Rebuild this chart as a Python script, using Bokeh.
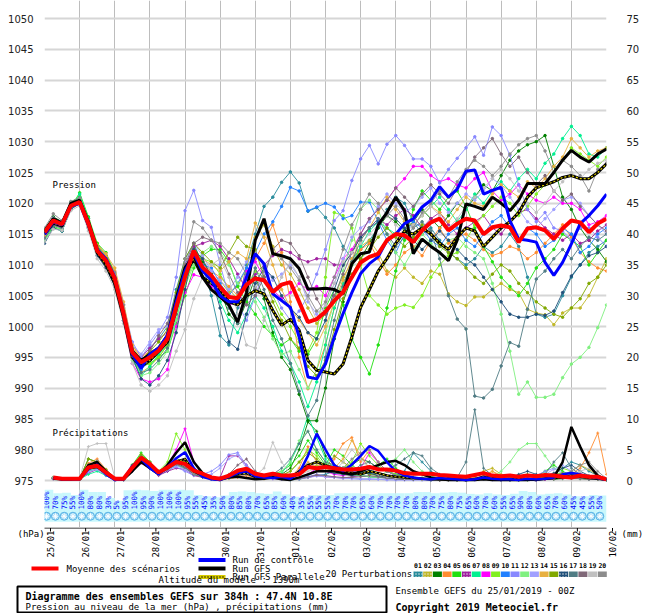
import math
from bokeh.plotting import figure
from bokeh.models import Range1d, LinearAxis, FixedTicker
from bokeh.layouts import column
from bokeh.embed import file_html
from bokeh.resources import INLINE
from bokeh.core.properties import value

# ---------------- DATA ----------------
steps = list(range(65))                       # 6-hourly steps from 25/01 00Z
days = [s / 4 for s in steps]
rr_days = days[1:]                            # precipitation from +6h
date_labels = ["25/01", "26/01", "27/01", "28/01", "29/01", "30/01", "31/01", "01/02", "02/02",
               "03/02", "04/02", "05/02", "06/02", "07/02", "08/02", "09/02", "10/02"]
hpa_ticks = list(range(975, 1051, 5))
mm_ticks = list(range(0, 76, 5))

mean_p = [1015.3, 1017.2, 1016.6, 1019.6, 1020.2, 1016.7, 1012.3, 1010.7,
          1007.8, 1002.1, 995.8, 994.2, 995.0, 996.1, 998.0, 1003.1,
          1008.0, 1012.3, 1009.6, 1008.3, 1006.4, 1004.8, 1004.6, 1006.8,
          1007.8, 1007.5, 1005.6, 1006.8, 1007.2, 1004.0, 1000.7, 1001.2,
          1002.4, 1004.2, 1005.6, 1008.0, 1010.4, 1011.3, 1011.8, 1014.0,
          1015.0, 1014.8, 1013.7, 1015.6, 1016.9, 1017.5, 1015.6, 1016.7,
          1017.5, 1017.2, 1015.0, 1016.1, 1016.4, 1016.1, 1013.7, 1015.9,
          1016.1, 1015.6, 1014.2, 1015.9, 1017.2, 1016.9, 1015.3, 1016.7,
          1017.5]
control_p = [1015.0, 1017.0, 1016.5, 1019.5, 1020.0, 1016.5, 1012.5, 1011.0,
             1008.0, 1002.0, 995.5, 993.2, 995.5, 996.5, 998.5, 1004.0,
             1009.0, 1011.8, 1009.0, 1007.5, 1005.0, 1004.0, 1004.0, 1008.0,
             1011.8, 1010.2, 1005.3, 1004.2, 1003.1, 998.3, 991.8, 991.5,
             993.9, 998.3, 1002.1, 1005.5, 1008.6, 1010.2, 1011.3, 1014.0,
             1015.0, 1016.7, 1017.5, 1019.4, 1020.5, 1022.7, 1021.0, 1022.3,
             1025.2, 1025.4, 1021.5, 1022.1, 1022.6, 1017.2, 1014.2, 1014.0,
             1013.7, 1010.4, 1008.3, 1010.4, 1013.4, 1016.7, 1018.0, 1019.6,
             1021.5]
gfs_p = [1015.5, 1017.5, 1016.8, 1020.0, 1020.5, 1017.0, 1012.5, 1010.5,
         1007.5, 1002.0, 996.0, 994.5, 995.5, 996.5, 998.5, 1004.5,
         1009.5, 1011.5, 1008.0, 1006.0, 1004.8, 1003.5, 1000.7, 1005.5,
         1014.0, 1017.5, 1011.8, 1011.5, 1011.0, 1009.4, 1006.1, 1006.1,
         1006.2, 1006.0, 1005.3, 1010.2, 1011.8, 1012.1, 1016.5, 1018.5,
         1021.0, 1018.8, 1011.8, 1014.2, 1013.0, 1012.0, 1010.7, 1014.0,
         1019.9, 1019.5, 1019.0, 1021.0, 1020.0, 1018.8, 1020.5, 1023.2,
         1023.2, 1023.2, 1025.0, 1027.0, 1028.6, 1027.5, 1026.7, 1028.0,
         1028.8]
par_p = [1015.0, 1016.8, 1016.3, 1019.8, 1020.3, 1016.5, 1012.0, 1010.0,
         1007.0, 1001.5, 995.0, 993.5, 994.5, 996.0, 997.5, 1003.0,
         1008.5, 1011.0, 1008.0, 1007.0, 1006.0, 1004.0, 1003.5, 1005.0,
         1005.8, 1005.3, 1002.6, 1000.2, 1001.2, 999.4, 994.5, 992.9,
         992.6, 992.3, 993.9, 998.3, 1003.1, 1006.0, 1009.0, 1011.0,
         1013.5, 1015.5, 1015.0, 1016.0, 1015.0, 1013.5, 1012.5, 1014.5,
         1016.0, 1015.5, 1013.0, 1014.5, 1016.0, 1017.0, 1018.5, 1021.0,
         1022.5, 1023.0, 1023.5, 1024.2, 1024.5, 1024.0, 1024.0, 1025.0,
         1026.4]

pert01 = [1014.8, 1016.9, 1016.2, 1019.5, 1020.4, 1016.0, 1012.8, 1011.2,
          1008.5, 1003.0, 996.5, 993.0, 996.5, 998.0, 1000.0, 1006.0,
          1011.0, 1013.5, 1010.0, 1005.0, 998.5, 997.0, 1003.0, 1010.0,
          1015.0, 1019.5, 1021.0, 1023.4, 1025.1, 1023.3, 1018.7, 1019.3,
          1017.7, 1016.0, 1013.0, 1011.0, 1012.5, 1014.0, 1016.0, 1019.0,
          1021.0, 1020.0, 1017.0, 1015.0, 1016.0, 1014.0, 1012.0, 1011.0,
          1010.0, 1011.0, 1013.0, 1012.0, 1013.0, 1015.0, 1013.0, 1008.0,
          1002.0, 1001.5, 1002.0, 1005.0, 1008.0, 1010.0, 1012.0, 1013.0,
          1014.0]
pert02 = [1014.5, 1016.5, 1016.0, 1019.2, 1019.8, 1016.2, 1012.0, 1010.5,
          1007.0, 1001.5, 995.0, 992.5, 993.5, 995.0, 997.0, 1002.5,
          1008.0, 1011.5, 1010.5, 1009.0, 1007.5, 1005.5, 1006.5, 1009.5,
          1014.5, 1016.5, 1013.0, 1010.0, 1008.5, 1006.0, 1003.0, 1000.5,
          1002.0, 1005.0, 1008.0, 1010.5, 1013.0, 1014.0, 1012.0, 1009.0,
          1008.0, 1009.5, 1008.0, 1007.0, 1009.0, 1008.5, 1005.3, 1004.0,
          1003.4, 1004.8, 1004.8, 1006.0, 1007.0, 1006.0, 1005.5, 1002.8,
          1002.2, 1001.9, 1000.3, 1002.2, 1003.0, 1003.0, 1005.0, 1008.0,
          1011.0]
pert03 = [1015.8, 1017.8, 1017.0, 1020.2, 1021.0, 1017.5, 1013.0, 1011.5,
          1008.0, 1002.5, 996.0, 994.0, 994.5, 995.5, 997.5, 1003.0,
          1009.5, 1013.0, 1010.5, 1008.5, 1006.0, 1002.0, 1000.5, 1004.0,
          1008.0, 1004.5, 999.0, 995.0, 993.0, 989.0, 984.7, 984.7,
          990.0, 998.0, 1004.0, 1008.0, 1011.0, 1013.5, 1016.0, 1018.0,
          1017.0, 1015.5, 1017.0, 1019.0, 1017.5, 1016.0, 1018.0, 1020.0,
          1019.0, 1021.0, 1023.0, 1022.0, 1024.5, 1027.0, 1028.5, 1029.5,
          1030.0, 1031.0, 1026.0, 1021.0, 1019.0, 1016.0, 1014.0, 1012.5,
          1010.5]
pert04 = [1015.0, 1017.0, 1016.5, 1019.8, 1020.6, 1017.0, 1013.5, 1011.5,
          1009.0, 1003.5, 997.0, 995.0, 996.0, 996.5, 998.5, 1004.0,
          1008.5, 1012.0, 1010.0, 1009.0, 1008.0, 1006.5, 1005.0, 1008.0,
          1011.0, 1013.5, 1016.5, 1012.0, 1004.0, 995.0, 989.9, 993.0,
          997.0, 1003.0, 1007.0, 1010.0, 1012.5, 1013.5, 1011.0, 1008.5,
          1010.0, 1012.0, 1013.0, 1011.5, 1014.0, 1016.0, 1013.5, 1014.5,
          1015.0, 1014.0, 1012.5, 1011.5, 1012.0, 1013.0, 1012.5, 1011.0,
          1012.0, 1013.5, 1015.0, 1016.5, 1014.5, 1012.0, 1010.5, 1009.5,
          1009.0]
pert05 = [1014.2, 1016.2, 1015.8, 1019.4, 1021.7, 1017.8, 1013.5, 1012.0,
          1008.5, 1002.5, 995.5, 993.5, 994.0, 995.0, 996.0, 1000.5,
          1005.0, 1009.5, 1011.5, 1012.5, 1012.5, 1010.5, 1006.5, 1004.0,
          1002.0, 1000.0, 998.5, 997.0, 998.0, 996.0, 995.5, 998.0,
          1003.0, 1006.0, 1003.5, 998.0, 995.0, 992.3, 997.0, 1003.0,
          1009.0, 1014.0, 1019.0, 1022.0, 1020.5, 1019.0, 1021.0, 1022.0,
          1019.5, 1016.0, 1013.0, 1010.5, 1008.0, 1006.5, 1005.0, 1007.0,
          1009.5, 1011.0, 1012.5, 1015.0, 1014.0, 1013.0, 1010.0, 1012.0,
          1014.0]
pert06 = [1015.5, 1017.5, 1016.8, 1019.8, 1020.3, 1016.8, 1012.5, 1010.5,
          1008.0, 1002.5, 996.0, 995.0, 996.5, 998.0, 999.0, 1004.0,
          1009.5, 1013.0, 1013.5, 1014.0, 1013.0, 1011.0, 1008.5, 1006.0,
          1008.5, 1010.0, 1011.5, 1012.5, 1012.0, 1011.0, 1010.5, 1011.0,
          1011.0, 1010.0, 1010.0, 1012.0, 1014.5, 1016.0, 1017.5, 1016.5,
          1018.0, 1019.0, 1018.0, 1016.0, 1017.5, 1018.5, 1016.5, 1015.0,
          1016.0, 1017.0, 1018.0, 1016.0, 1015.0, 1017.0, 1018.5, 1019.0,
          1017.5, 1016.0, 1015.0, 1014.0, 1015.0, 1013.5, 1014.0, 1015.5,
          1016.5]
pert07 = [1014.0, 1016.0, 1015.5, 1019.0, 1021.5, 1017.5, 1013.0, 1011.0,
          1008.0, 1002.0, 995.0, 992.0, 993.5, 995.5, 997.0, 1001.0,
          1007.0, 1011.0, 1009.0, 1007.5, 1004.0, 1001.0, 999.0, 1002.0,
          1005.0, 1003.0, 1000.0, 996.0, 994.0, 991.0, 987.0, 991.0,
          997.0, 1003.0, 1007.0, 1010.0, 1013.0, 1015.5, 1017.0, 1016.0,
          1015.0, 1017.0, 1016.5, 1018.0, 1019.5, 1021.0, 1019.0, 1017.0,
          1019.0, 1021.5, 1020.0, 1022.0, 1023.5, 1022.0, 1024.0, 1025.5,
          1024.0, 1026.5, 1028.0, 1030.5, 1032.5, 1031.0, 1028.0, 1027.5,
          1029.0]
pert08 = [1014.5, 1016.5, 1016.0, 1019.5, 1020.8, 1016.5, 1012.0, 1010.0,
          1007.0, 1001.0, 994.0, 991.5, 991.0, 991.5, 993.0, 1000.0,
          1005.5, 1008.4, 1008.0, 1006.5, 1005.0, 1003.5, 1004.0, 1009.0,
          1010.5, 1008.0, 1006.0, 1004.5, 1005.5, 1007.0, 1006.0, 1006.5,
          1005.0, 1008.0, 1011.0, 1012.5, 1015.0, 1017.5, 1019.0, 1020.5,
          1022.5, 1024.0, 1026.0, 1026.0, 1024.5, 1023.5, 1024.0, 1023.0,
          1022.5, 1024.0, 1025.0, 1022.0, 1020.5, 1021.5, 1023.0, 1021.5,
          1020.5, 1020.0, 1021.0, 1020.0, 1020.0, 1019.0, 1016.5, 1017.0,
          1018.0]
pert09 = [1015.2, 1017.3, 1016.5, 1019.6, 1020.0, 1016.5, 1012.0, 1010.0,
          1007.5, 1002.0, 995.5, 993.5, 994.0, 995.0, 997.0, 1002.0,
          1007.0, 1010.5, 1011.0, 1010.5, 1008.5, 1006.0, 1004.5, 1006.5,
          1009.0, 1008.0, 1005.0, 1002.0, 1000.0, 997.5, 996.0, 999.0,
          1008.0, 1018.5, 1018.0, 1016.0, 1010.0, 1005.0, 1003.5, 1002.0,
          1003.0, 1003.5, 1003.1, 1005.0, 1008.0, 1010.0, 1011.5, 1012.0,
          1014.0, 1016.5, 1018.0, 1019.5, 1021.0, 1020.0, 1018.0, 1019.5,
          1021.5, 1023.0, 1025.0, 1027.0, 1029.0, 1028.0, 1027.0, 1026.0,
          1027.5]
pert10 = [1014.8, 1016.8, 1016.2, 1019.4, 1020.5, 1016.8, 1012.5, 1010.5,
          1007.5, 1001.5, 995.0, 993.0, 994.5, 996.0, 998.5, 1004.5,
          1009.0, 1011.5, 1010.0, 1009.5, 1007.0, 1005.0, 1007.0, 1009.5,
          1012.0, 1015.0, 1017.0, 1019.5, 1022.6, 1022.0, 1018.8, 1019.4,
          1020.0, 1019.4, 1017.5, 1018.0, 1020.2, 1020.2, 1017.0, 1014.0,
          1012.0, 1015.0, 1017.0, 1016.0, 1014.0, 1013.0, 1015.0, 1016.0,
          1014.0, 1013.0, 1015.0, 1017.0, 1018.0, 1016.0, 1014.0, 1016.0,
          1015.0, 1013.0, 1014.0, 1016.0, 1015.0, 1012.0, 1013.0, 1015.0,
          1016.0]
pert11 = [1015.0, 1017.0, 1016.5, 1019.5, 1020.0, 1016.5, 1012.5, 1011.0,
          1008.5, 1003.5, 997.5, 995.0, 997.0, 999.0, 1001.5, 1008.0,
          1018.8, 1022.1, 1017.2, 1016.1, 1010.0, 1005.0, 1003.7, 1001.0,
          1005.0, 1009.0, 1006.0, 1003.0, 1001.0, 1002.5, 1005.0, 1008.5,
          1012.5, 1017.2, 1018.8, 1023.7, 1027.2, 1029.4, 1026.4, 1029.6,
          1031.0, 1029.4, 1027.2, 1027.2, 1026.0, 1023.3, 1025.5, 1027.3,
          1029.0, 1030.8, 1027.8, 1032.4, 1031.0, 1027.8, 1023.0, 1019.0,
          1017.0, 1018.5, 1016.0, 1015.5, 1014.0, 1016.0, 1016.0, 1014.5,
          1013.0]
pert12 = [1014.0, 1016.0, 1015.8, 1019.0, 1020.5, 1017.0, 1013.0, 1010.5,
          1007.0, 1001.0, 994.5, 992.0, 992.5, 994.0, 996.0, 1001.0,
          1006.5, 1010.0, 1012.0, 1013.0, 1012.0, 1010.0, 1007.0, 1005.5,
          1004.0, 1001.5, 998.0, 995.5, 996.0, 993.0, 990.0, 993.0,
          999.0, 1004.0, 1009.0, 1014.0, 1019.0, 1020.5, 1019.0, 1015.0,
          1012.0, 1010.0, 1012.5, 1015.0, 1013.5, 1012.0, 1014.0, 1014.5,
          1013.0, 1012.0, 1011.0, 1007.0, 1002.0, 996.0, 989.0, 991.0,
          988.5, 988.5, 989.0, 991.7, 993.9, 995.0, 996.6, 999.8,
          1003.5]
pert13 = [1015.6, 1017.6, 1017.0, 1020.0, 1020.4, 1016.8, 1012.3, 1010.8,
          1008.3, 1003.0, 997.0, 995.5, 997.5, 999.5, 1000.0, 1005.0,
          1010.5, 1013.5, 1011.5, 1009.0, 1007.5, 1006.0, 1008.0, 1010.5,
          1012.0, 1010.0, 1007.5, 1008.5, 1010.0, 1008.0, 1004.0, 1002.0,
          1003.5, 1007.0, 1011.0, 1014.5, 1016.0, 1017.0, 1019.5, 1021.5,
          1020.0, 1018.5, 1019.5, 1021.0, 1022.5, 1020.0, 1018.5, 1020.0,
          1021.5, 1020.5, 1022.0, 1024.0, 1023.0, 1021.0, 1019.0, 1017.0,
          1016.0, 1017.5, 1019.0, 1020.5, 1021.0, 1020.0, 1018.0, 1016.5,
          1015.0]
pert14 = [1014.7, 1016.6, 1016.3, 1019.7, 1020.7, 1017.2, 1013.2, 1011.8,
          1009.5, 1004.0, 997.0, 994.5, 995.5, 996.5, 998.0, 1003.5,
          1009.0, 1012.5, 1011.0, 1010.0, 1009.0, 1010.5, 1012.0, 1011.0,
          1016.8, 1014.5, 1010.0, 1006.0, 1003.0, 1001.0, 999.0, 997.0,
          1000.0, 1004.0, 1007.5, 1011.0, 1014.0, 1016.0, 1018.5, 1021.0,
          1019.0, 1017.0, 1016.5, 1018.0, 1019.5, 1018.5, 1017.0, 1019.0,
          1021.0, 1020.0, 1019.5, 1021.5, 1023.0, 1022.0, 1021.0, 1023.5,
          1022.5, 1024.0, 1026.0, 1027.5, 1030.5, 1029.0, 1027.5, 1028.5,
          1029.0]
pert15 = [1015.4, 1017.4, 1016.9, 1019.9, 1020.5, 1017.0, 1013.0, 1011.0,
          1008.0, 1002.5, 996.5, 994.5, 996.0, 997.5, 999.5, 1005.5,
          1011.0, 1013.5, 1012.0, 1010.5, 1009.5, 1012.0, 1014.5, 1013.0,
          1012.5, 1008.0, 1004.0, 1001.0, 998.0, 996.5, 993.5, 992.0,
          994.5, 999.5, 1004.5, 1008.5, 1011.0, 1012.5, 1014.5, 1016.0,
          1014.5, 1013.0, 1014.5, 1016.5, 1015.0, 1013.0, 1012.0, 1011.0,
          1009.5, 1008.0, 1007.0, 1008.5, 1010.0, 1009.0, 1007.0, 1005.5,
          1004.0, 1003.0, 1002.0, 1001.5, 1003.0, 1004.5, 1007.0, 1008.0,
          1010.0]
pert16 = [1013.5, 1016.0, 1015.5, 1019.0, 1020.0, 1016.0, 1011.5, 1009.5,
          1006.5, 1001.0, 995.0, 991.5, 990.5, 992.0, 994.5, 999.0,
          1006.0, 1012.5, 1011.0, 1008.0, 1003.0, 997.5, 996.3, 1002.0,
          1007.0, 1009.5, 1008.0, 1005.0, 1003.0, 1001.5, 999.0, 998.0,
          1001.0, 1006.0, 1010.0, 1012.0, 1014.5, 1016.0, 1017.0, 1018.5,
          1017.5, 1016.0, 1014.0, 1012.5, 1014.0, 1015.5, 1014.0, 1012.5,
          1011.0, 1010.0, 1008.0, 1006.0, 1004.0, 1002.0, 1001.5, 1001.5,
          1002.0, 1001.8, 1002.5, 1005.5, 1008.2, 1010.0, 1011.5, 1012.0,
          1013.0]
pert17 = [1014.3, 1016.4, 1016.0, 1019.3, 1020.1, 1016.3, 1012.2, 1010.2,
          1007.5, 1002.0, 995.5, 992.5, 993.0, 994.5, 996.5, 1002.0,
          1007.5, 1011.0, 1009.5, 1008.0, 1005.5, 1003.0, 1000.5, 1004.5,
          1009.5, 1006.0, 1001.0, 998.0, 994.0, 989.5, 985.5, 988.0,
          995.0, 1001.0, 1006.5, 1010.5, 1014.0, 1016.0, 1017.5, 1015.0,
          1013.0, 1014.5, 1016.0, 1017.0, 1015.5, 1011.0, 1005.0, 1001.2,
          999.6, 988.7, 988.4, 989.8, 993.6, 997.4, 996.8, 1002.8,
          1007.7, 1009.0, 1011.0, 1012.5, 1011.0, 1013.0, 1014.5, 1014.0,
          1015.0]
pert18 = [1015.1, 1017.1, 1016.4, 1019.5, 1020.2, 1016.4, 1012.0, 1009.8,
          1007.0, 1001.5, 995.5, 993.5, 996.0, 998.5, 1000.5, 1005.0,
          1010.0, 1013.5, 1014.5, 1014.0, 1012.0, 1008.5, 1005.5, 1003.5,
          1005.0, 1008.0, 1012.5, 1014.0, 1013.5, 1011.5, 1008.0, 1004.5,
          1002.0, 1005.0, 1008.5, 1012.0, 1015.0, 1017.5, 1019.0, 1020.5,
          1022.5, 1021.0, 1019.5, 1021.5, 1023.0, 1021.5, 1020.0, 1022.5,
          1025.0, 1027.5, 1029.0, 1030.5, 1028.0, 1026.0, 1027.5, 1025.0,
          1023.0, 1024.5, 1022.0, 1020.5, 1021.5, 1019.5, 1018.0, 1016.5,
          1015.5]
pert19 = [1013.8, 1015.8, 1015.6, 1018.8, 1019.6, 1015.5, 1011.0, 1009.0,
          1006.0, 1000.5, 994.0, 990.5, 989.5, 990.5, 992.0, 996.0,
          999.5, 1004.5, 1008.0, 1010.0, 1011.0, 1008.0, 1002.0, 997.0,
          996.5, 1001.0, 1005.0, 1008.0, 1010.5, 1008.0, 1004.5, 1001.0,
          1003.5, 1007.0, 1010.5, 1012.0, 1013.5, 1015.0, 1016.5, 1018.0,
          1016.5, 1015.0, 1016.5, 1018.0, 1019.5, 1018.0, 1016.0, 1017.5,
          1019.5, 1021.0, 1022.5, 1024.0, 1025.5, 1024.0, 1022.0, 1020.0,
          1018.5, 1020.0, 1022.0, 1023.5, 1025.0, 1024.0, 1025.5, 1026.5,
          1027.0]
pert20 = [1016.0, 1018.3, 1017.2, 1020.3, 1020.9, 1017.2, 1012.8, 1010.8,
          1008.8, 1003.5, 996.5, 994.0, 995.0, 996.5, 998.5, 1004.0,
          1011.0, 1017.0, 1016.0, 1014.0, 1013.5, 1012.0, 1011.0, 1008.5,
          1006.0, 1009.0, 1012.0, 1011.0, 1009.5, 1007.5, 1005.0, 1002.5,
          1004.0, 1008.0, 1012.5, 1016.5, 1019.0, 1021.5, 1020.0, 1018.0,
          1019.5, 1017.5, 1016.0, 1018.5, 1020.0, 1022.0, 1021.0, 1023.5,
          1025.5, 1027.0, 1026.0, 1024.5, 1026.0, 1028.0, 1029.5, 1030.5,
          1031.0, 1028.5, 1025.0, 1027.0, 1026.0, 1024.5, 1022.0, 1025.5,
          1026.5]

# precipitation (mm per 6 h), from +6h to +384h
mean_rr = [0.5, 0.3, 0.3, 0.3, 2.1, 2.4, 1.3, 0.3,
           0.3, 2.1, 3.7, 2.7, 1.3, 2.1, 3.0, 2.7,
           1.6, 1.1, 0.5, 0.3, 0.8, 1.6, 1.9, 1.1,
           0.8, 1.1, 0.8, 0.8, 1.0, 2.2, 2.0, 2.2,
           2.0, 1.8, 1.8, 1.9, 2.2, 1.8, 1.8, 1.6,
           1.2, 1.1, 1.1, 1.1, 0.9, 0.8, 0.7, 0.6,
           0.9, 1.2, 0.8, 0.7, 0.8, 0.6, 0.8, 0.7,
           0.9, 0.8, 0.6, 0.5, 0.8, 0.6, 0.6, 0.2]
control_rr = [0.4, 0.2, 0.2, 0.2, 1.8, 2.6, 1.0, 0.1,
              0.2, 2.4, 3.5, 2.0, 1.0, 2.2, 3.6, 4.6,
              2.0, 0.6, 0.2, 0.1, 0.6, 1.2, 1.5, 0.7,
              0.5, 0.4, 0.6, 0.3, 1.2, 4.0, 7.6, 5.0,
              2.5, 1.5, 2.6, 4.0, 5.6, 4.8, 3.0, 1.5,
              0.8, 0.5, 0.3, 0.2, 0.4, 0.3, 0.2, 0.1,
              0.2, 0.5, 0.3, 0.2, 0.2, 0.1, 0.3, 0.2,
              0.3, 0.5, 1.0, 1.2, 1.0, 0.6, 0.4, 0.1]
gfs_rr = [0.4, 0.2, 0.2, 0.3, 2.5, 3.0, 1.5, 0.2,
          0.2, 1.5, 3.0, 2.0, 1.0, 2.5, 4.5, 6.2,
          3.0, 1.2, 0.3, 0.1, 0.5, 0.6, 0.4, 0.2,
          0.3, 0.5, 0.2, 0.1, 0.5, 1.0, 1.5, 1.5,
          1.5, 1.2, 1.0, 1.5, 2.0, 2.5, 3.0, 3.2,
          2.5, 1.5, 1.0, 0.5, 0.2, 0.1, 0.1, 0.1,
          0.1, 0.2, 0.1, 0.1, 0.1, 0.1, 0.1, 0.2,
          0.3, 0.5, 3.0, 8.7, 5.5, 2.5, 0.8, 0.1]
par_rr = [0.3, 0.2, 0.2, 0.2, 2.0, 2.2, 1.2, 0.2,
          0.2, 2.0, 3.2, 2.5, 1.2, 2.0, 3.0, 3.5,
          1.5, 0.8, 0.3, 0.2, 0.8, 1.0, 1.2, 0.6,
          0.4, 0.6, 0.5, 0.4, 1.5, 2.5, 3.0, 2.5,
          2.0, 1.5, 1.2, 1.0, 1.5, 1.2, 0.8, 0.6,
          0.5, 0.4, 0.3, 0.2, 0.2, 0.3, 0.2, 0.1,
          0.2, 0.6, 0.4, 0.2, 0.2, 0.3, 0.2, 0.1,
          0.3, 0.4, 0.5, 0.8, 0.6, 0.4, 0.3, 0.1]

rr01 = [0.4, 0.2, 0.2, 0.3, 1.5, 2.0, 1.0, 0.2, 0.2, 2.0, 3.5, 2.5, 1.0, 1.5, 2.5, 2.0,
        1.0, 0.5, 0.2, 0.1, 0.5, 1.0, 1.0, 0.5, 0.3, 0.5, 0.2, 0.1, 0.2, 0.5, 0.8, 1.0,
        1.5, 2.0, 2.0, 1.5, 1.2, 0.8, 0.5, 0.3, 1.5, 4.5, 3.0, 1.5, 0.5, 0.3, 0.2, 0.1,
        0.2, 0.5, 0.3, 0.2, 0.1, 0.1, 0.2, 0.1, 0.2, 1.0, 2.0, 3.0, 2.5, 1.5, 0.8, 0.2]
rr02 = [0.3, 0.2, 0.2, 0.2, 1.8, 2.2, 1.0, 0.1, 0.1, 1.8, 3.0, 2.2, 1.0, 1.8, 2.5, 2.0,
        1.2, 0.8, 0.3, 0.2, 0.5, 0.8, 1.0, 0.6, 0.5, 0.8, 0.5, 0.4, 1.0, 2.0, 2.5, 2.0,
        1.5, 1.0, 0.8, 1.2, 1.5, 1.0, 0.6, 0.5, 0.4, 0.3, 0.3, 0.2, 0.1, 0.2, 0.1, 0.1,
        0.5, 1.5, 2.0, 1.0, 0.5, 0.3, 0.2, 0.2, 0.4, 0.6, 0.8, 1.5, 2.5, 1.8, 0.8, 0.2]
rr03 = [0.5, 0.3, 0.3, 0.3, 3.5, 3.0, 1.5, 0.2, 0.2, 2.5, 4.0, 3.0, 1.5, 2.5, 3.5, 3.0,
        1.5, 1.0, 0.5, 0.3, 0.6, 1.0, 1.2, 0.8, 0.5, 0.8, 1.0, 2.0, 5.0, 9.5, 8.0, 4.0,
        2.5, 2.0, 2.5, 3.5, 3.0, 2.0, 1.5, 1.0, 0.8, 0.5, 0.4, 0.3, 0.2, 0.2, 0.1, 0.1,
        0.2, 0.3, 0.2, 0.1, 0.1, 0.1, 0.1, 0.1, 0.2, 0.2, 0.3, 0.4, 0.3, 0.2, 0.2, 0.1]
rr04 = [0.3, 0.2, 0.2, 0.3, 2.8, 3.5, 1.8, 0.2, 0.2, 2.2, 3.8, 2.8, 1.2, 2.0, 2.8, 2.2,
        1.0, 0.6, 0.2, 0.1, 0.3, 0.5, 0.8, 0.4, 0.3, 0.5, 0.3, 0.5, 2.0, 5.5, 3.0, 1.5,
        3.5, 6.0, 7.0, 3.0, 5.0, 3.0, 1.5, 0.8, 0.5, 0.4, 0.3, 0.2, 0.2, 0.2, 0.1, 0.1,
        0.3, 0.5, 1.5, 0.6, 0.3, 0.2, 0.2, 0.2, 0.3, 0.4, 0.6, 1.0, 2.0, 4.5, 7.7, 1.0]
rr05 = [0.4, 0.2, 0.2, 0.2, 1.5, 2.0, 1.0, 0.1, 0.1, 2.5, 4.5, 3.0, 1.2, 2.2, 3.2, 2.5,
        1.2, 0.8, 0.4, 0.2, 0.5, 1.0, 1.5, 1.0, 0.8, 1.0, 1.5, 2.5, 4.0, 6.5, 4.5, 2.5,
        5.0, 4.0, 2.5, 1.5, 1.0, 2.5, 3.5, 2.0, 1.0, 0.5, 0.3, 0.2, 0.2, 0.1, 0.1, 0.1,
        0.2, 0.4, 0.2, 0.2, 0.2, 0.5, 1.0, 0.6, 1.5, 2.5, 1.5, 0.8, 0.6, 0.4, 0.3, 0.1]
rr06 = [0.3, 0.2, 0.2, 0.2, 1.2, 1.8, 0.8, 0.1, 0.1, 1.5, 2.8, 2.0, 0.8, 1.5, 2.0, 1.8,
        0.8, 0.5, 0.3, 0.5, 4.0, 4.0, 2.5, 1.0, 0.5, 0.3, 0.2, 0.2, 0.3, 0.5, 0.8, 0.6,
        0.5, 0.4, 0.6, 0.8, 0.6, 0.5, 0.4, 0.3, 0.3, 0.2, 0.2, 0.1, 0.1, 0.1, 0.1, 0.1,
        0.2, 0.3, 0.2, 0.1, 0.1, 0.2, 0.2, 0.1, 0.2, 0.3, 0.4, 0.5, 0.4, 0.3, 0.2, 0.1]
rr07 = [0.4, 0.2, 0.2, 0.2, 1.0, 1.5, 0.8, 0.1, 0.1, 1.8, 3.0, 2.2, 1.0, 1.8, 2.5, 2.0,
        1.0, 0.6, 0.3, 0.2, 0.4, 0.8, 1.0, 0.6, 0.5, 0.8, 1.2, 3.0, 6.0, 10.5, 7.0, 3.5,
        2.0, 1.5, 1.0, 0.8, 0.6, 0.5, 0.4, 0.3, 0.3, 0.2, 0.2, 0.1, 0.1, 0.1, 0.1, 0.1,
        0.2, 0.2, 0.2, 0.1, 0.1, 0.1, 0.2, 0.2, 0.3, 0.4, 0.5, 1.0, 0.8, 0.5, 0.3, 0.1]
rr08 = [0.3, 0.2, 0.2, 0.2, 1.5, 2.2, 1.2, 0.1, 0.1, 1.8, 3.2, 2.5, 1.2, 2.5, 5.0, 8.4,
        3.0, 1.0, 0.4, 0.2, 0.5, 0.8, 1.0, 0.5, 0.4, 0.5, 0.3, 0.2, 0.5, 1.0, 2.0, 1.5,
        1.0, 0.8, 1.2, 2.0, 4.5, 3.0, 1.5, 0.8, 0.5, 0.3, 0.2, 0.2, 0.1, 0.1, 0.1, 0.1,
        0.2, 0.3, 0.2, 0.1, 0.1, 0.1, 0.2, 0.1, 0.2, 0.3, 0.4, 0.6, 0.5, 0.3, 0.2, 0.1]
rr09 = [0.4, 0.3, 0.2, 0.2, 2.0, 2.5, 1.2, 0.2, 0.2, 2.0, 3.5, 2.5, 1.5, 3.0, 7.6, 5.0,
        2.0, 1.0, 0.4, 0.2, 0.5, 1.0, 1.2, 0.6, 0.5, 0.6, 0.8, 1.5, 3.0, 5.0, 4.0, 2.0,
        1.5, 2.0, 3.0, 6.0, 4.0, 2.5, 1.5, 1.0, 0.6, 0.4, 0.3, 0.2, 0.2, 0.1, 0.1, 0.1,
        0.2, 0.3, 0.2, 0.2, 0.1, 0.2, 0.3, 0.2, 0.5, 1.0, 2.0, 1.5, 0.8, 0.5, 0.3, 0.1]
rr10 = [0.3, 0.2, 0.2, 0.2, 1.8, 2.5, 1.2, 0.1, 0.1, 2.0, 3.8, 2.8, 1.2, 2.0, 3.0, 2.5,
        1.2, 0.6, 0.2, 0.1, 0.4, 0.8, 1.2, 0.6, 0.4, 0.5, 0.3, 0.2, 0.4, 0.8, 1.5, 2.0,
        2.5, 2.0, 1.5, 1.2, 1.5, 2.0, 1.5, 0.8, 0.5, 0.4, 0.3, 0.2, 0.2, 0.1, 0.1, 0.1,
        0.2, 0.3, 0.2, 0.1, 0.1, 0.1, 0.2, 0.1, 0.3, 0.5, 0.8, 0.6, 0.4, 0.3, 0.2, 0.1]
rr11 = [0.3, 0.2, 0.2, 0.2, 1.5, 2.0, 1.0, 0.1, 0.1, 1.5, 3.0, 2.2, 1.0, 1.8, 2.2, 1.5,
        0.8, 1.0, 1.5, 2.5, 4.2, 4.5, 2.5, 1.0, 0.5, 0.3, 0.2, 0.2, 0.3, 0.6, 1.0, 0.8,
        0.5, 0.4, 0.3, 0.2, 0.2, 0.2, 0.1, 0.1, 0.1, 0.1, 0.1, 0.1, 0.1, 0.1, 0.1, 0.1,
        0.1, 0.2, 0.1, 0.1, 0.1, 0.2, 0.5, 0.8, 1.5, 2.0, 1.2, 0.8, 0.5, 0.3, 0.2, 0.1]
rr12 = [0.3, 0.2, 0.2, 0.2, 1.6, 2.0, 1.0, 0.1, 0.1, 1.8, 3.2, 2.4, 1.1, 1.9, 2.6, 2.0,
        1.0, 0.6, 0.3, 0.2, 0.5, 0.9, 1.1, 0.6, 0.5, 0.8, 1.5, 3.0, 6.5, 8.0, 5.0, 3.0,
        2.0, 1.5, 1.0, 0.8, 0.6, 0.5, 1.5, 3.5, 5.0, 3.0, 1.5, 0.8, 0.4, 0.2, 0.2, 0.1,
        0.2, 0.3, 0.5, 1.5, 3.0, 5.0, 6.0, 6.0, 4.0, 2.0, 1.0, 0.6, 0.4, 0.3, 0.2, 0.1]
rr13 = [0.3, 0.2, 0.2, 0.2, 1.4, 1.8, 0.9, 0.1, 0.1, 1.6, 3.0, 2.2, 1.0, 1.7, 2.4, 1.8,
        1.0, 0.8, 1.0, 2.0, 3.5, 4.2, 2.0, 0.8, 0.4, 0.3, 0.2, 0.2, 0.3, 0.5, 0.7, 0.6,
        0.5, 0.4, 0.4, 0.3, 0.3, 0.2, 0.2, 0.1, 0.1, 0.1, 0.1, 0.1, 0.1, 0.1, 0.1, 0.1,
        0.1, 0.2, 0.2, 0.1, 0.1, 0.2, 0.3, 0.5, 1.0, 1.8, 2.5, 1.5, 0.8, 0.4, 0.2, 0.1]
rr14 = [0.4, 0.2, 0.2, 0.3, 2.2, 3.0, 1.5, 0.2, 0.2, 2.0, 3.5, 2.5, 1.2, 2.0, 3.0, 2.5,
        1.2, 0.7, 0.3, 0.2, 0.4, 0.8, 1.0, 0.5, 0.3, 0.4, 0.3, 0.5, 1.5, 3.0, 2.0, 1.5,
        2.0, 3.5, 6.5, 4.0, 2.0, 1.0, 0.6, 0.4, 0.3, 0.3, 0.2, 0.2, 0.1, 0.1, 0.1, 0.1,
        0.3, 0.8, 1.5, 0.8, 0.3, 0.2, 0.2, 0.2, 0.3, 0.4, 0.5, 0.6, 0.5, 0.4, 0.3, 0.1]
rr15 = [0.5, 0.3, 0.3, 0.3, 3.5, 3.0, 1.8, 0.2, 0.2, 2.5, 4.2, 3.0, 1.5, 2.5, 3.5, 3.0,
        1.5, 1.0, 0.5, 0.3, 0.6, 1.0, 1.2, 0.6, 0.4, 0.6, 0.8, 1.5, 3.0, 4.5, 3.5, 2.0,
        4.0, 3.0, 2.0, 1.5, 1.0, 0.8, 0.5, 0.3, 0.3, 0.2, 0.2, 0.2, 0.1, 0.1, 0.1, 0.1,
        0.2, 0.4, 0.3, 0.2, 0.2, 0.2, 0.3, 0.4, 0.6, 1.0, 1.2, 0.8, 0.5, 0.4, 0.2, 0.1]
rr16 = [0.4, 0.2, 0.2, 0.2, 2.0, 2.8, 1.4, 0.2, 0.2, 2.2, 3.6, 2.6, 1.2, 2.0, 2.8, 2.2,
        1.0, 0.6, 0.3, 0.2, 0.5, 1.0, 1.2, 0.7, 0.4, 0.5, 0.5, 0.8, 1.5, 2.5, 2.0, 1.5,
        1.2, 1.0, 0.8, 1.0, 1.2, 0.8, 0.5, 0.3, 0.2, 0.2, 0.2, 0.1, 0.1, 0.1, 0.1, 0.1,
        0.2, 0.4, 0.3, 0.2, 0.5, 1.0, 1.5, 1.0, 0.8, 1.2, 2.0, 2.5, 1.5, 0.8, 0.4, 0.1]
rr17 = [0.4, 0.3, 0.2, 0.2, 2.5, 3.0, 1.5, 0.2, 0.2, 2.2, 3.8, 2.8, 1.2, 2.2, 3.2, 2.6,
        1.2, 0.7, 0.3, 0.2, 0.5, 0.9, 1.1, 0.6, 0.5, 1.0, 2.0, 3.5, 6.0, 8.0, 5.0, 3.0,
        2.5, 2.0, 1.5, 2.5, 3.0, 2.0, 1.5, 2.5, 3.5, 4.5, 4.0, 2.0, 1.0, 0.5, 0.5, 3.0,
        11.5, 2.0, 0.8, 0.5, 0.4, 0.3, 0.2, 0.3, 1.0, 3.0, 4.5, 2.0, 1.0, 0.5, 0.3, 0.1]
rr18 = [0.3, 0.2, 0.2, 0.2, 1.8, 2.4, 1.2, 0.1, 0.1, 1.8, 3.2, 2.4, 1.1, 1.8, 2.6, 2.1,
        1.0, 0.6, 0.3, 0.2, 1.0, 2.5, 3.5, 1.5, 0.6, 0.4, 0.3, 0.2, 0.3, 0.6, 0.9, 0.8,
        0.6, 0.5, 0.5, 0.6, 0.8, 0.6, 0.4, 0.3, 0.2, 0.2, 0.2, 0.1, 0.1, 0.1, 0.1, 0.1,
        0.2, 0.3, 0.2, 0.1, 0.1, 0.1, 0.2, 0.2, 0.3, 0.4, 0.4, 0.3, 0.3, 0.2, 0.2, 0.1]
rr19 = [0.5, 0.3, 0.3, 0.3, 5.5, 6.0, 6.0, 0.5, 0.2, 2.0, 3.5, 2.8, 1.5, 2.5, 3.5, 2.5,
        1.2, 0.8, 0.4, 0.3, 0.6, 1.2, 1.5, 0.8, 2.0, 6.2, 3.0, 1.0, 0.8, 1.5, 2.0, 1.5,
        1.5, 3.0, 5.0, 3.5, 2.0, 1.0, 0.6, 0.4, 0.3, 0.3, 0.2, 0.2, 0.2, 0.1, 0.1, 0.1,
        0.2, 0.3, 0.3, 0.2, 0.2, 0.2, 0.2, 0.3, 0.4, 0.5, 0.8, 1.0, 1.5, 2.0, 1.0, 0.2]
rr20 = [0.4, 0.2, 0.2, 0.3, 2.2, 3.2, 1.6, 0.2, 0.2, 2.0, 3.6, 2.6, 1.3, 2.2, 3.0, 2.4,
        1.1, 0.7, 0.3, 0.2, 0.5, 0.9, 1.2, 0.6, 0.4, 0.6, 0.5, 0.8, 1.5, 2.5, 3.0, 2.0,
        1.5, 2.0, 3.5, 4.5, 5.0, 3.0, 1.5, 0.8, 0.5, 0.4, 0.3, 0.2, 0.2, 0.1, 0.1, 0.1,
        0.2, 0.4, 0.3, 0.2, 0.2, 0.2, 0.3, 0.2, 0.4, 0.6, 1.0, 1.5, 2.5, 3.0, 1.5, 0.3]

# probability row (%) for each 6-hour step
pct = [100, 70, 75, 55, 100, 80, 80, 30, 5, 95, 100, 95, 90, 100, 100, 100,
       95, 55, 45, 35, 50, 80, 85, 80, 70, 65, 85, 60, 40, 35, 55, 55,
       55, 70, 70, 70, 65, 60, 70, 70, 70, 70, 80, 80, 70, 75, 80, 75,
       65, 60, 70, 60, 55, 65, 90, 80, 60, 65, 70, 60, 45, 45, 55, 50]

pert_colors = ["#288c9c", "#c0b828", "#008000", "#ff8c30", "#20e010", "#a020a0", "#00f090",
               "#ff00ff", "#80f020", "#2080ff", "#8888ff", "#80f080", "#a0a0ff", "#e8b040",
               "#80a800", "#20507a", "#507c84", "#806878", "#c0c0c0", "#8c8c8c"]
pert_p = [pert01, pert02, pert03, pert04, pert05, pert06, pert07, pert08, pert09, pert10,
          pert11, pert12, pert13, pert14, pert15, pert16, pert17, pert18, pert19, pert20]
pert_rr = [rr01, rr02, rr03, rr04, rr05, rr06, rr07, rr08, rr09, rr10,
           rr11, rr12, rr13, rr14, rr15, rr16, rr17, rr18, rr19, rr20]

for s in [mean_p, control_p, gfs_p, par_p] + pert_p:
    assert len(s) == 65, len(s)
for s in [mean_rr, control_rr, gfs_rr, par_rr] + pert_rr:
    assert len(s) == 64, len(s)
assert len(pct) == 64

# ---------------- LAYOUT ----------------
W = 648
H_MAIN = 527
H_BOT = 86
LEFT = 44
RIGHT = W - 606
PX_PER_DAY = (W - LEFT - RIGHT) / 16.0
HPA_PX = 6.16
Y_LOW = 975 - 47 / HPA_PX
Y_HIGH = Y_LOW + H_MAIN / HPA_PX
MONO = value("DejaVu Sans Mono")

p = figure(width=W, height=H_MAIN, x_range=Range1d(0, 16), y_range=Range1d(Y_LOW, Y_HIGH),
           output_backend="svg", toolbar_location=None, x_axis_location=None,
           min_border_left=LEFT, min_border_right=RIGHT, min_border_top=0, min_border_bottom=0)
p.frame_align = False
p.outline_line_color = None
p.background_fill_color = "white"
p.border_fill_color = "white"
p.xgrid.ticker = FixedTicker(ticks=list(range(17)))
p.xgrid.grid_line_color = "#bdbdbd"
p.xgrid.grid_line_width = 1
p.ygrid.ticker = FixedTicker(ticks=hpa_ticks)
p.ygrid.grid_line_color = "#d6d6d6"
p.ygrid.grid_line_width = 2

ya = p.yaxis[0]
ya.ticker = FixedTicker(ticks=hpa_ticks)
ya.axis_line_color = None
ya.major_tick_line_color = None
ya.minor_tick_line_color = None
ya.major_label_text_font = "DejaVu Sans"
ya.major_label_text_font_size = "10px"
ya.major_label_text_color = "#222222"
ya.major_label_standoff = 5

p.extra_y_ranges = {"mm": Range1d(Y_LOW - 975, Y_HIGH - 975)}
ra = LinearAxis(y_range_name="mm", ticker=FixedTicker(ticks=mm_ticks))
ra.axis_line_color = None
ra.major_tick_line_color = None
ra.minor_tick_line_color = None
ra.major_label_text_font = "DejaVu Sans"
ra.major_label_text_font_size = "10px"
ra.major_label_text_color = "#222222"
ra.major_label_standoff = 14
p.add_layout(ra, "right")

# probability row
pl = [k / 4 for k in range(64)]
p.quad(left=pl, right=[v + 0.25 for v in pl], bottom=968.3,
       top=[971.6 + 1.9 * v / 100 for v in pct], fill_color="#c8f7fc", line_color=None)
px = [v + 0.06 for v in pl]
p.scatter(px, [969.2] * 64, marker="circle", size=8, fill_color="#9bd7f5", line_color="#5ab3e6")
p.scatter(px, [969.2] * 64, marker="asterisk", size=6, line_color="#ffffff", line_width=1)
p.text(px, [970.3] * 64, text=[f"{v}%" for v in pct], angle=math.pi / 2, text_align="left",
       text_baseline="middle", text_font=MONO, text_font_size="7.5px", text_color="#0000ff")

# perturbations: precipitation then pressure
for c, rr in zip(pert_colors, pert_rr):
    p.line(rr_days, rr, y_range_name="mm", line_color=c, line_width=1, line_alpha=0.9)
    p.scatter(rr_days, rr, y_range_name="mm", marker="cross", size=3, line_color=c)
for c, vals in zip(pert_colors, pert_p):
    p.line(days, vals, line_color=c, line_width=1, line_alpha=0.9)
    p.scatter(days, vals, marker="circle", size=2.5, fill_color=c, line_color=c)

# runs
p.line(rr_days, par_rr, y_range_name="mm", line_color="#000000", line_width=2.5)
p.line(rr_days, par_rr, y_range_name="mm", line_color="#e0d000", line_width=1, line_dash="2 2")
p.line(rr_days, gfs_rr, y_range_name="mm", line_color="#000000", line_width=2.5)
p.line(rr_days, control_rr, y_range_name="mm", line_color="#0000ff", line_width=2.5)
p.line(days, par_p, line_color="#000000", line_width=3)
p.line(days, par_p, line_color="#e0d000", line_width=1.2, line_dash="2 2")
p.line(days, gfs_p, line_color="#000000", line_width=3)
p.line(days, control_p, line_color="#0000ff", line_width=3)
p.line(rr_days, mean_rr, y_range_name="mm", line_color="#ff0000", line_width=4)
p.line(days, mean_p, line_color="#ff0000", line_width=4)

p.text([(52 - LEFT) / PX_PER_DAY], [975 + (480 - 184) / HPA_PX], text=["Pression"],
       text_align="left", text_baseline="middle", text_font=MONO, text_font_size="9px",
       text_color="#000000")
p.text([(52 - LEFT) / PX_PER_DAY], [975 + (480 - 432) / HPA_PX], text=["Précipitations"],
       text_align="left", text_baseline="middle", text_font=MONO, text_font_size="9px",
       text_color="#000000")

# ---------------- bottom band: dates, legend, title ----------------
b = figure(width=W, height=H_BOT,
           x_range=Range1d(-LEFT / PX_PER_DAY, (W - LEFT) / PX_PER_DAY),
           y_range=Range1d(0, H_BOT), output_backend="svg", toolbar_location=None,
           x_axis_location=None, y_axis_location=None, min_border=0)
b.frame_align = False
b.grid.visible = False
b.outline_line_color = None
b.background_fill_color = "white"
b.border_fill_color = "white"


def bx(px_):
    return (px_ - LEFT) / PX_PER_DAY


def by(py_):
    return H_BOT - (py_ - H_MAIN)


tick_x = [d + 6 / PX_PER_DAY for d in range(17)]
b.segment(x0=[0], x1=[16], y0=[by(527.5)], y1=[by(527.5)], line_color="#000000", line_width=1)
b.segment(x0=tick_x, x1=tick_x, y0=[by(527.5)] * 17, y1=[by(531)] * 17, line_color="#000000")
b.text(tick_x, [by(530)] * 17, text=date_labels, angle=math.pi / 2, text_align="right",
       text_baseline="middle", text_font=MONO, text_font_size="9px", text_color="#000000")
b.text([bx(17)], [by(533)], text=["(hPa)"], text_align="left", text_baseline="middle",
       text_font=MONO, text_font_size="9px", text_color="#000000")
b.text([bx(621)], [by(533)], text=["(mm)"], text_align="left", text_baseline="middle",
       text_font=MONO, text_font_size="9px", text_color="#000000")

lg_font = dict(text_align="left", text_baseline="middle", text_font=MONO,
               text_font_size="9px", text_color="#000000")
b.segment(x0=[bx(31)], x1=[bx(58)], y0=[by(568)], y1=[by(568)], line_color="#ff0000", line_width=4)
b.text([bx(66)], [by(568.5)], text=["Moyenne des scénarios"], **lg_font)
b.segment(x0=[bx(198)], x1=[bx(225)], y0=[by(559.5)], y1=[by(559.5)], line_color="#0000ff", line_width=4)
b.text([bx(232)], [by(559.5)], text=["Run de contrôle"], **lg_font)
b.segment(x0=[bx(198)], x1=[bx(225)], y0=[by(568)], y1=[by(568)], line_color="#000000", line_width=4)
b.text([bx(232)], [by(568)], text=["Run GFS"], **lg_font)
b.segment(x0=[bx(198)], x1=[bx(225)], y0=[by(576.5)], y1=[by(576.5)], line_color="#d8cc00", line_width=4)
b.segment(x0=[bx(198)], x1=[bx(225)], y0=[by(576.5)], y1=[by(576.5)], line_color="#000000",
          line_width=1.5, line_dash="1 2")
b.text([bx(232)], [by(576.5)], text=["Run GFS Parallele"], **lg_font)
b.text([bx(158)], [by(579.5)], text=["Altitude du modèle : 1390m"], **lg_font)
b.text([bx(325)], [by(573.5)], text=["20 Perturbations"], **lg_font)

sw_l = [bx(413 + 9.7 * k) for k in range(20)]
sw_r = [bx(413 + 9.7 * k + 9) for k in range(20)]
b.quad(left=sw_l, right=sw_r, top=by(571), bottom=by(576.5), fill_color=pert_colors, line_color=None)
dotted = [0, 1, 5, 15]
b.quad(left=[sw_l[k] for k in dotted], right=[sw_r[k] for k in dotted], top=by(571), bottom=by(576.5),
       fill_alpha=0, line_color=None, hatch_pattern="dot", hatch_color="#e8e8e8",
       hatch_scale=3, hatch_weight=1)
b.text([(l + r) / 2 for l, r in zip(sw_l, sw_r)], [by(565)] * 20,
       text=[f"{k:02d}" for k in range(1, 21)], text_align="center", text_baseline="middle",
       text_font=MONO, text_font_size="6.5px", text_color="#000000", text_font_style="bold")

b.quad(left=[bx(17)], right=[bx(386)], top=[by(586)], bottom=[by(612)], fill_alpha=0,
       line_color="#000000", line_width=2)
b.text([bx(25)], [by(595.5)], text=["Diagramme des ensembles GEFS sur 384h : 47.4N 10.8E"],
       text_align="left", text_baseline="middle", text_font=MONO, text_font_size="10px",
       text_font_style="bold", text_color="#000000")
b.text([bx(25)], [by(606)], text=["Pression au niveau de la mer (hPa) , précipitations (mm)"],
       **lg_font)
b.text([bx(395)], [by(590)], text=["Ensemble GEFS du 25/01/2019 - 00Z"], **lg_font)
b.text([bx(395)], [by(606.5)], text=["Copyright 2019 Meteociel.fr"], text_align="left",
       text_baseline="middle", text_font=MONO, text_font_size="10px", text_font_style="bold",
       text_color="#000000")

layout = column(p, b, spacing=0)
open("out.html", "w").write(file_html(layout, INLINE))
